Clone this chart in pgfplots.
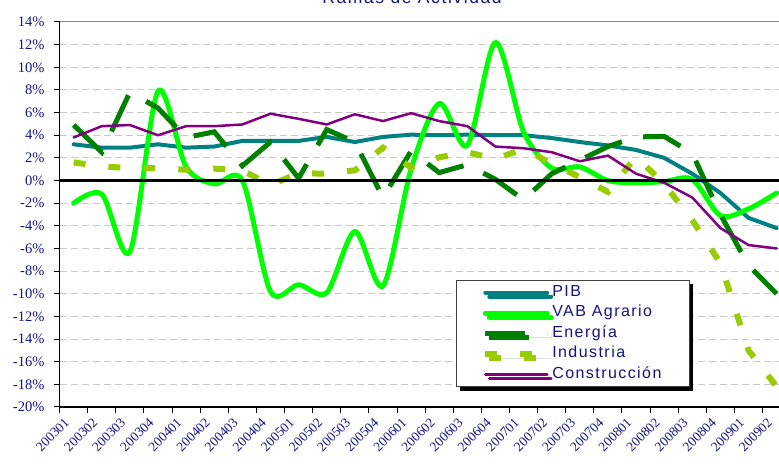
\documentclass[border=0pt]{standalone}
\usepackage{fontspec}
\setmainfont{Liberation Sans}
\newfontfamily\tnr{Liberation Serif}
\newfontfamily\legfont[LetterSpace=9]{Liberation Sans}
\usepackage{pgfplots}
\usepackage{pgfplotstable}
\pgfplotsset{compat=1.18}
\usetikzlibrary{shadows}
\definecolor{navy}{RGB}{20,20,130}
\definecolor{pib}{RGB}{0,128,128}
\definecolor{vab}{RGB}{0,255,0}
\definecolor{ener}{RGB}{0,128,0}
\definecolor{indu}{RGB}{153,204,0}
\definecolor{cons}{RGB}{128,0,128}
\definecolor{gridc}{RGB}{200,200,200}

\pgfplotstableread{
i pib vab ener ind cons
0 3.2 -2.0 4.9 1.6 3.8
1 2.9 -1.2 2.5 1.25 4.8
2 2.9 -6.3 7.8 1.1 4.9
3 3.2 7.9 6.4 1.1 4.0
4 2.9 1.2 3.8 0.95 4.8
5 3.0 -0.3 4.3 1.05 4.8
6 3.5 0.0 1.3 0.9 4.95
7 3.5 -9.8 3.4 -0.4 5.9
8 3.5 -9.2 0.2 0.65 5.45
9 3.85 -9.9 4.5 0.6 4.95
10 3.4 -4.5 3.4 0.9 5.85
11 3.85 -9.3 -1.5 2.9 5.25
12 4.05 1.0 2.6 1.15 5.95
13 4.0 6.8 0.7 2.05 5.25
14 4.05 3.1 1.4 2.5 4.8
15 4.0 12.2 0.1 1.9 3.0
16 4.0 4.3 -1.7 2.8 2.85
17 3.75 1.1 0.6 1.5 2.5
18 3.4 1.2 1.8 0.3 1.7
19 3.1 0.0 3.0 -1.0 2.2
20 2.7 -0.2 3.85 2.1 0.6
21 2.0 -0.1 3.9 -0.3 -0.2
22 0.6 0.1 2.4 -3.5 -1.5
23 -1.1 -3.1 -3.0 -7.3 -4.2
24 -3.3 -2.5 -7.5 -15.0 -5.7
25 -4.2 -1.1 -10.0 -18.2 -6.0
}\datatable

\begin{document}
\begin{tikzpicture}
\begin{axis}[
  at={(59.6pt,69pt)}, anchor=south west,
  scale only axis, width=731.1pt, height=385pt,
  xmin=-0.5, xmax=25.5, ymin=-20, ymax=14,
  axis x line*=bottom, axis y line*=left,
  axis line style={-, black, line width=1.2pt},
  tick align=outside,
  major tick length=6pt,
  tick style={black, line width=1pt},
  xtick={-0.5,0.5,...,25.5},
  xticklabels={},
  ytick={-20,-18,...,14},
  yticklabels={},
  ymajorgrids,
  major grid style={gridc, dash pattern=on 7pt off 4pt, line width=1pt},
  legend cell align=left,
  legend image code/.code={\draw[#1] (0pt,0pt) -- (62pt,0pt);},
  legend style={at={(0.542,0.33)}, anchor=north west,
    draw=black!75, line width=0.8pt, fill=white,
    inner xsep=26pt, inner ysep=2pt,
    font=\legfont\fontsize{16}{18}\selectfont, text=navy,
    nodes={inner sep=2pt, text height=12pt, text depth=4.5pt},
    drop shadow={shadow xshift=4pt, shadow yshift=-4pt, fill=black, opacity=1}},
]
\draw[black!45, line width=1pt] (axis cs:-0.5,14) -- (axis cs:25.5,14);
\addplot[pib, line width=4pt, line join=round, line cap=round] table[x=i,y=pib]{\datatable};
\addlegendentry{PIB}
\addplot[vab, line width=5pt, line join=round, line cap=round, smooth, tension=0.5] table[x=i,y=vab]{\datatable};
\addlegendentry{VAB Agrario}
\addplot[ener, line width=5pt, line join=miter, dash pattern=on 40pt off 22pt] table[x=i,y=ener]{\datatable};
\addlegendentry{Energía}
\addplot[indu, line width=6pt, line join=miter, dash pattern=on 12pt off 23pt] table[x=i,y=ind]{\datatable};
\addlegendentry{Industria}
\addplot[cons, line width=2.5pt, line join=round, line cap=round] table[x=i,y=cons]{\datatable};
\addlegendentry{Construcción}
\draw[black, line width=3pt] (axis cs:-0.5,0) -- (axis cs:25.5,0);
\end{axis}
% y tick labels
\foreach \v in {-20,-18,...,14}
  \node[anchor=east, font=\tnr\fontsize{14.5}{16}\selectfont, text=navy, inner sep=0pt]
    at (44.6pt, {69pt+(\v+20)*385pt/34}) {\v\%};
% x tick labels, rotated 45 degrees
\foreach \lab [count=\i from 0] in {200301,200302,200303,200304,200401,200402,200403,200404,200501,200502,200503,200504,200601,200602,200603,200604,200701,200702,200703,200704,200801,200802,200803,200804,200901,200902}
  \node[rotate=45, anchor=north east, font=\tnr\fontsize{13.5}{14}\selectfont, text=navy, inner sep=0pt]
    at ({59.6pt+28.12pt*(\i+0.5)-10pt}, 59pt) {\lab};
\node[font=\legfont\fontsize{17.5}{20}\selectfont, text=navy, anchor=base] at (412pt,472pt) {Ramas de Actividad};
\pgfresetboundingbox
\path[use as bounding box] (0,0) rectangle (779pt,476pt);
\end{tikzpicture}
\end{document}
